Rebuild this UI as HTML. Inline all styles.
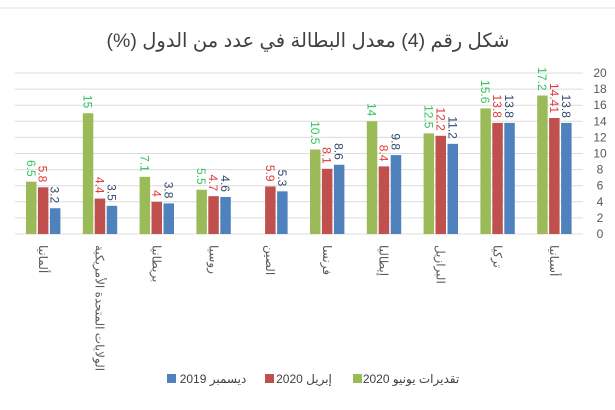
<!DOCTYPE html>
<html><head><meta charset="utf-8"><style>
html,body{margin:0;padding:0;background:#fff}
svg{display:block}
text{font-family:"Liberation Sans","DejaVu Sans",sans-serif}
.ar{direction:rtl;unicode-bidi:embed}
</style></head><body>
<svg id="s" width="615" height="410" viewBox="0 0 615 410" xmlns="http://www.w3.org/2000/svg">
<rect x="0" y="0" width="615" height="410" fill="#fff"/>
<line x1="0" y1="8" x2="615" y2="8" stroke="#e0e0e0"/>
<text class="ar" x="308" y="47" font-size="19.5" fill="#404040" text-anchor="middle" font-family="DejaVu Sans, sans-serif">شكل رقم (4) معدل البطالة في عدد من الدول (%)</text>
<g id="g"></g>
<rect x="167" y="374" width="9" height="9" fill="#4F81BD"/>
<text class="ar" x="213" y="383" font-size="12" fill="#404040" text-anchor="middle" font-family="DejaVu Sans, sans-serif">ديسمبر 2019</text>
<rect x="265" y="374" width="9" height="9" fill="#C0504D"/>
<text class="ar" x="304" y="383" font-size="12" fill="#404040" text-anchor="middle" font-family="DejaVu Sans, sans-serif">إبريل 2020</text>
<rect x="353" y="374" width="9" height="9" fill="#9BBB59"/>
<text class="ar" x="411" y="383" font-size="12" fill="#404040" text-anchor="middle" font-family="DejaVu Sans, sans-serif">تقديرات يونيو 2020</text>
</svg>
<script>
var g=document.getElementById("g"),h="";
for(var i=0;i<=10;i++){var y=234-i*2*8.05;
h+='<line x1="15" x2="583" y1="'+y+'" y2="'+y+'" stroke="#dcdcdc"/>';
h+='<text x="600" y="'+(y+4)+'" font-size="12" fill="#595959" text-anchor="middle">'+(i*2)+'</text>';}
var d=[["ألمانيا",6.5,5.8,3.2],["الولايات المتحدة الأمريكية",15,4.4,3.5],["بريطانيا",7.1,4,3.8],["روسيا",5.5,4.7,4.6],["الصين",null,5.9,5.3],["فرنسا",10.5,8.1,8.6],["إيطاليا",14,8.4,9.8],["البرازيل",12.5,12.2,11.2],["تركيا",15.6,13.8,13.8],["أسبانيا",17.2,14.41,13.8]];
var fc=["#9BBB59","#C0504D","#4F81BD"],tc=["#2fc45e","#e03a3a","#2e4a6b"],off=[-17.4,-5.5,6.5];
d.forEach(function(r,i){var c=15+56.8*(i+.5);
for(var k=0;k<3;k++){var v=r[k+1];if(v==null)continue;var x=c+off[k],top=234-v*8.05;
h+='<rect x="'+x+'" y="'+top+'" width="10.5" height="'+(234-top)+'" fill="'+fc[k]+'"/>';
var tx=x+5.25-4.5,ty=top-5;
h+='<text font-size="12" fill="'+tc[k]+'" text-anchor="end" transform="translate('+tx+','+ty+') rotate(90)">'+v+'</text>';}
h+='<text font-size="12" fill="#595959" text-anchor="start" font-family="DejaVu Sans, sans-serif" transform="translate('+(c-4.5)+',245) rotate(90)">'+r[0]+'</text>';});
g.innerHTML=h;
</script>
</body></html>
